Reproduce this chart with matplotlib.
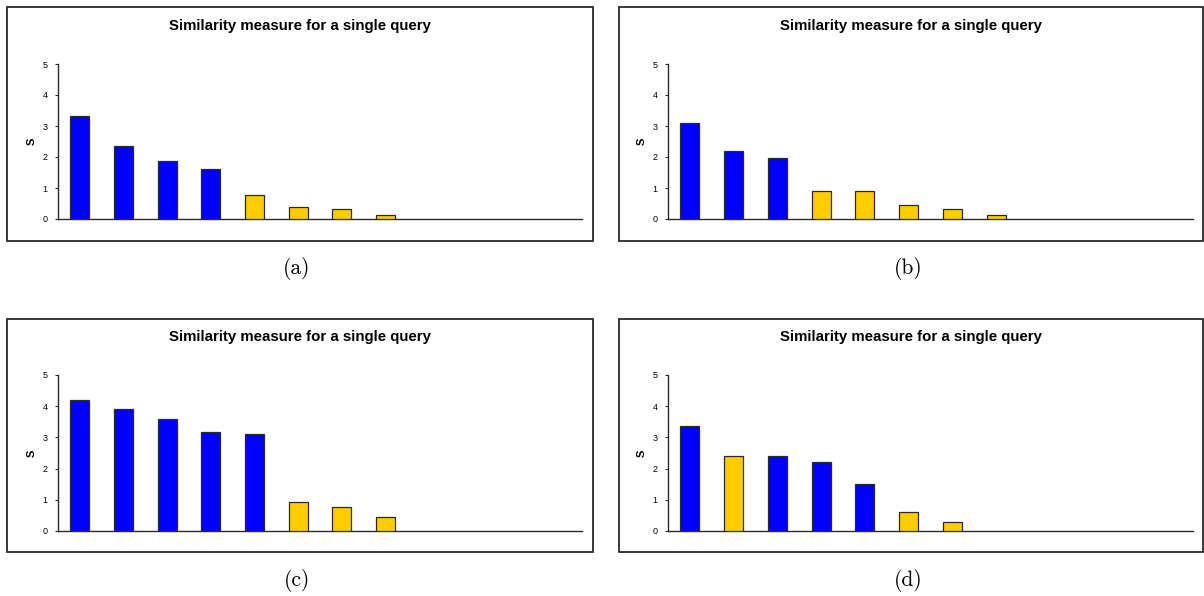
import matplotlib
matplotlib.use("Agg")
import matplotlib.pyplot as plt
from matplotlib.patches import Rectangle

# ---- data ----
n_categories = 12
title_text = "Similarity measure for a single query"
ylabel_text = "S"
yticks = [0, 1, 2, 3, 4, 5]
captions = ["(a)", "(b)", "(c)", "(d)"]

values_a = [3.33, 2.34, 1.87, 1.62, 0.76, 0.38, 0.33, 0.12]
colors_a = ["b", "b", "b", "b", "y", "y", "y", "y"]

values_b = [3.10, 2.18, 1.96, 0.89, 0.89, 0.46, 0.33, 0.12]
colors_b = ["b", "b", "b", "y", "y", "y", "y", "y"]

values_c = [4.20, 3.90, 3.59, 3.17, 3.12, 0.94, 0.77, 0.44]
colors_c = ["b", "b", "b", "b", "b", "y", "y", "y"]

values_d = [3.38, 2.40, 2.40, 2.22, 1.50, 0.60, 0.30]
colors_d = ["b", "y", "b", "b", "b", "y", "y"]

palette = {"b": "#0000FF", "y": "#FFCC00"}

W, H = 1204, 596
fig = plt.figure(figsize=(W / 100, H / 100), dpi=100)
fig.patch.set_facecolor("white")

def fx(px):
    return px / W

def fy(py):
    return 1 - py / H

panels = [
    # frame (x0, y0, x1, y1), axes (left, right, ytop5, ybottom0), caption pos
    ((7.3, 7.3, 593.3, 240.7), (58, 582, 64, 219), (297, 269), values_a, colors_a),
    ((618.7, 7.3, 1203.3, 240.7), (668, 1193, 64, 219), (908, 269), values_b, colors_b),
    ((7.3, 318.7, 593.3, 552.3), (58, 582, 375, 531), (297, 581), values_c, colors_c),
    ((618.7, 318.7, 1203.3, 552.3), (668, 1193, 375, 531), (908, 581), values_d, colors_d),
]

edge = "#2a2a2a"
for i, (frame, axbox, cap, vals, cols) in enumerate(panels):
    x0, y0, x1, y1 = frame
    fig.patches.append(Rectangle((fx(x0), fy(y1)), fx(x1 - x0), (y1 - y0) / H,
                                 transform=fig.transFigure, fill=False,
                                 edgecolor=edge, linewidth=1.3, zorder=0))
    l, r, t, b = axbox
    ax = fig.add_axes([fx(l), fy(b), fx(r - l), (b - t) / H])
    ax.set_facecolor("none")
    xs = list(range(len(vals)))
    ax.bar(xs, vals, width=0.43, color=[palette[c] for c in cols],
           edgecolor=edge, linewidth=0.9, zorder=3)
    ax.set_xlim(-0.5, n_categories - 0.5)
    ax.set_ylim(0, 5)
    ax.set_yticks(yticks)
    ax.set_yticklabels([str(v) for v in yticks], fontsize=6.5, family="Liberation Sans")
    ax.set_xticks([])
    for s in ["top", "right"]:
        ax.spines[s].set_visible(False)
    for s in ["left", "bottom"]:
        ax.spines[s].set_color(edge)
        ax.spines[s].set_linewidth(1.0)
    ax.tick_params(axis="y", direction="out", length=2.5, width=0.8, color=edge, pad=5)
    ax.set_ylabel(ylabel_text, fontsize=8, fontweight="bold", family="Liberation Sans", labelpad=4)
    # title
    fig.text(fx((x0 + x1) / 2), fy(y0 + 18.7), title_text, ha="center", va="center",
             fontsize=10.8, fontweight="bold", family="Liberation Sans")
    # caption
    fig.text(fx(cap[0]), fy(cap[1]), captions[i], ha="center", va="center",
             fontsize=15.5, family="cmr10")

fig.savefig("out.png", dpi=100, facecolor="white")
